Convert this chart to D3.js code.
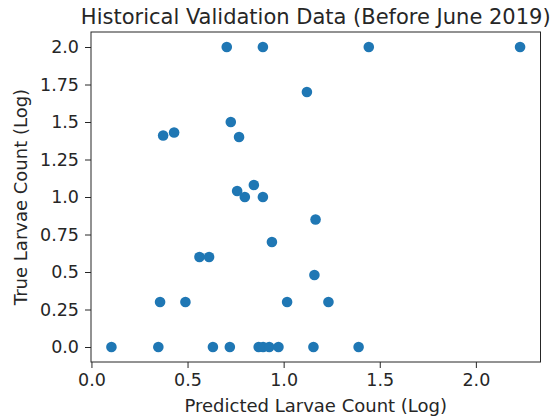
<!DOCTYPE html>
<html>
<head>
<meta charset="utf-8">
<script src="https://cdn.jsdelivr.net/npm/d3@7"></script>
<style>
  html, body { margin: 0; padding: 0; background: #fff; }
  svg { display: block; }
  text { font-family: "DejaVu Sans", sans-serif; fill: #262626; }
</style>
</head>
<body>
<svg id="chart" width="555" height="417"></svg>
<script>
// Predicted vs. true larvae counts, both on a log10 scale
const predicted = [
  2.230, 1.443, 0.704, 0.892,
  1.121, 0.725, 0.373, 0.430, 0.768,
  0.758, 0.798, 0.845, 0.892,
  1.166, 0.939, 0.562, 0.612, 1.160,
  0.357, 0.489, 1.018, 1.233,
  0.104, 0.348, 0.632, 0.720, 0.870, 0.893, 0.925, 0.973, 1.155, 1.390
];
const observed = [
  2.00, 2.00, 2.00, 2.00,
  1.70, 1.50, 1.41, 1.43, 1.40,
  1.04, 1.00, 1.08, 1.00,
  0.85, 0.70, 0.60, 0.60, 0.48,
  0.30, 0.30, 0.30, 0.30,
  0, 0, 0, 0, 0, 0, 0, 0, 0, 0
];
const xTicks = [0, 0.5, 1.0, 1.5, 2.0];
const yTicks = [0, 0.25, 0.5, 0.75, 1.0, 1.25, 1.5, 1.75, 2.0];
const yTickLabels = ["0.0", "0.25", "0.5", "0.75", "1.0", "1.25", "1.5", "1.75", "2.0"];

const points = predicted.map((p, i) => ({ x: p, y: observed[i] }));

const svg = d3.select("#chart");
const frame = { left: 91, right: 540.5, top: 32, bottom: 362 };

// 5% padding around the data extent on each axis
function padded(values) {
  const [lo, hi] = d3.extent(values);
  const m = (hi - lo) * 0.05;
  return [lo - m, hi + m];
}

const x = d3.scaleLinear().domain(padded(predicted)).range([frame.left, frame.right]);
const y = d3.scaleLinear().domain(padded(observed)).range([frame.bottom, frame.top]);

const tickLen = 6, tickPad = 6, tickFont = 17.5;

// points
svg.append("g")
  .selectAll("circle")
  .data(points)
  .join("circle")
  .attr("cx", d => x(d.x))
  .attr("cy", d => y(d.y))
  .attr("r", 5.3)
  .attr("fill", "#1f77b4");

// x axis
const xAxis = svg.append("g")
  .attr("transform", `translate(0,${frame.bottom})`)
  .call(d3.axisBottom(x).tickValues(xTicks).tickFormat(d3.format(".1f"))
    .tickSizeInner(tickLen).tickSizeOuter(0).tickPadding(tickPad));
xAxis.select(".domain").remove();
xAxis.selectAll("line").attr("stroke", "#262626").attr("stroke-width", 1);
xAxis.selectAll("text").attr("font-size", tickFont).attr("fill", "#262626")
  .attr("font-family", "DejaVu Sans, sans-serif");

// y axis
const yAxis = svg.append("g")
  .attr("transform", `translate(${frame.left},0)`)
  .call(d3.axisLeft(y).tickValues(yTicks).tickFormat((d, i) => yTickLabels[i])
    .tickSizeInner(tickLen).tickSizeOuter(0).tickPadding(tickPad));
yAxis.select(".domain").remove();
yAxis.selectAll("line").attr("stroke", "#262626").attr("stroke-width", 1);
yAxis.selectAll("text").attr("font-size", tickFont).attr("fill", "#262626")
  .attr("font-family", "DejaVu Sans, sans-serif");

// axes frame
svg.append("rect")
  .attr("x", frame.left).attr("y", frame.top)
  .attr("width", frame.right - frame.left).attr("height", frame.bottom - frame.top)
  .attr("fill", "none").attr("stroke", "#262626").attr("stroke-width", 1);

// title and axis labels
const cx = (frame.left + frame.right) / 2;
svg.append("text")
  .attr("x", cx).attr("y", 24)
  .attr("text-anchor", "middle").attr("font-size", 21)
  .text("Historical Validation Data (Before June 2019)");

svg.append("text")
  .attr("x", cx).attr("y", 411.5)
  .attr("text-anchor", "middle").attr("font-size", 18)
  .text("Predicted Larvae Count (Log)");

svg.append("text")
  .attr("transform", `translate(27,${(frame.top + frame.bottom) / 2}) rotate(-90)`)
  .attr("text-anchor", "middle").attr("font-size", 18)
  .text("True Larvae Count (Log)");
</script>
</body>
</html>
